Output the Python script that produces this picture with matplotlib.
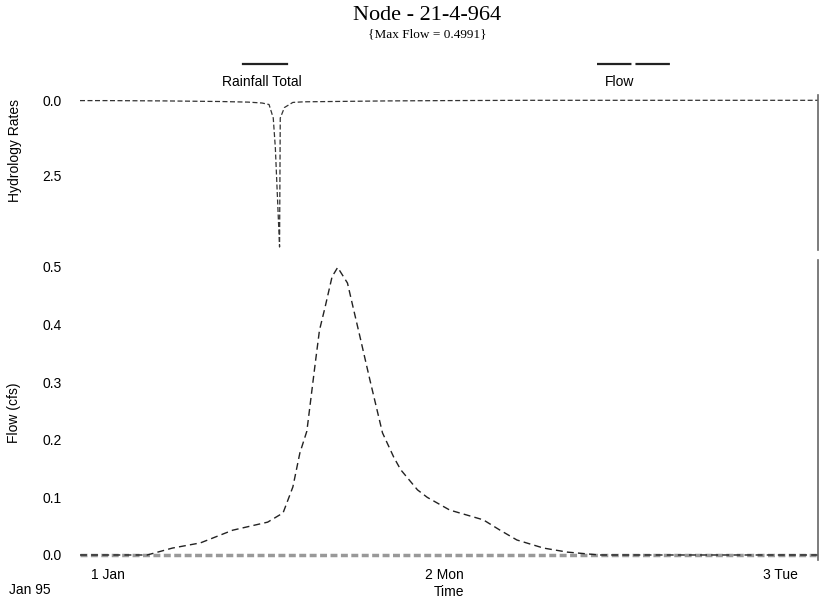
import matplotlib
matplotlib.use("Agg")
import matplotlib.pyplot as plt
from matplotlib.lines import Line2D

plt.rcParams['font.family'] = ['Liberation Sans', 'DejaVu Sans']

# ---- data (time in hours from 1 Jan 95 00:00) ----
rain_hours = [-2, 0, 4, 8, 10, 11, 11.5, 11.8, 11.95, 12.25, 12.3, 12.6, 13.2, 14, 16, 20, 24, 30, 36, 50.7]
rain_vals = [0.02, 0.02, 0.03, 0.05, 0.07, 0.1, 0.15, 0.6, 1.6, 4.9, 0.6, 0.25, 0.08, 0.06, 0.05, 0.03, 0.02, 0.01, 0.01, 0.01]

flow_hours = [-2, 2.8, 4.6, 6.6, 8.9, 11.4, 12.5, 13.2, 13.7, 14.2, 14.8, 15.1, 15.5, 16.0, 16.4,
              17.1, 17.5, 18.0, 18.7, 19.6, 20.4, 20.9, 22.1, 22.8, 24.4, 26.8, 28.0, 29.2, 31.1,
              32.8, 35.1, 50.7]
flow_vals = [0.0, 0.0, 0.012, 0.021, 0.043, 0.057, 0.073, 0.118, 0.177, 0.215, 0.333, 0.39, 0.43,
             0.483, 0.4991, 0.472, 0.43, 0.378, 0.304, 0.212, 0.17, 0.148, 0.113, 0.1, 0.078, 0.061,
             0.043, 0.026, 0.012, 0.005, 0.0, 0.0]

x_ticks = [0, 24, 48]
x_tick_labels = ["1 Jan", "2 Mon", "3 Tue"]
rain_ticks = [0.0, 2.5]
flow_ticks = [0.0, 0.1, 0.2, 0.3, 0.4, 0.5]

title = "Node - 21-4-964"
subtitle = "{Max Flow = 0.4991}"

# ---- figure ----
W, H = 822, 608
fig = plt.figure(figsize=(W / 100, H / 100), dpi=100)

def fx(px):
    return px / W

def fy(py):
    return 1 - py / H

ax1 = fig.add_axes([fx(80), fy(250), fx(818) - fx(80), fy(95) - fy(250)])
ax2 = fig.add_axes([fx(80), fy(560), fx(818) - fx(80), fy(260) - fy(560)])

xlim = (-2, 50.7)

# top panel: rainfall (inverted)
ax1.plot(rain_hours, rain_vals, color='#333333', lw=0.9, linestyle=(0, (4, 2)))
ax1.set_xlim(*xlim)
ax1.set_ylim(5.0, -0.167)
ax1.set_yticks(rain_ticks)
ax1.set_yticklabels([f"{v:.1f}" for v in rain_ticks])
ax1.set_xticks([])
ax1.set_ylabel("Hydrology Rates", fontsize=10)
ax1.yaxis.set_label_coords((22 - 80) / 738, 0.64)

# bottom panel: flow
ax2.axhline(0, color='#999999', lw=2.5, linestyle=(0, (2, 1)), zorder=1)
ax2.plot(flow_hours, flow_vals, color='#222222', lw=1.0, linestyle=(0, (5, 3)), zorder=2)
ax2.set_xlim(*xlim)
ax2.set_ylim(-0.0087, 0.512)
ax2.set_yticks(flow_ticks)
ax2.set_yticklabels([f"{v:.1f}" for v in flow_ticks])
ax2.set_xticks(x_ticks)
ax2.set_xticklabels(x_tick_labels)
ax2.set_ylabel("Flow (cfs)", fontsize=10)
ax2.yaxis.set_label_coords((21 - 80) / 738, 0.49)
ax2.set_xlabel("Time", fontsize=10, labelpad=2)

for ax in (ax1, ax2):
    for s in ('top', 'left', 'bottom'):
        ax.spines[s].set_visible(False)
    ax.spines['right'].set_color('#666666')
    ax.spines['right'].set_linestyle((0, (3, 1)))
    ax.spines['right'].set_linewidth(1.2)
    ax.tick_params(axis='y', length=0, pad=13, labelsize=10)
    ax.tick_params(axis='x', length=0, pad=6, labelsize=10)
    ax.set_facecolor('none')

# titles
fig.text(fx(427), fy(16), title, ha='center', va='center', fontsize=16,
         family=['Liberation Serif', 'DejaVu Serif'])
fig.text(fx(427), fy(34), subtitle, ha='center', va='center', fontsize=9.5,
         family=['Liberation Serif', 'DejaVu Serif'])

# legend (drawn manually: line sample above label)
fig.add_artist(Line2D([fx(243), fx(287)], [fy(64), fy(64)], color='#222222', lw=1.6,
                      transform=fig.transFigure))
fig.text(fx(262), fy(82), "Rainfall Total", ha='center', va='center', fontsize=10)
fig.add_artist(Line2D([fx(597), fx(670)], [fy(64), fy(64)], color='#222222', lw=1.6,
                      linestyle=(0, (15.5, 1.8)), transform=fig.transFigure))
fig.text(fx(620), fy(82), "Flow", ha='center', va='center', fontsize=10)

fig.text(fx(30), fy(590), "Jan 95", ha='center', va='center', fontsize=10)

fig.savefig("out.png", dpi=100)
